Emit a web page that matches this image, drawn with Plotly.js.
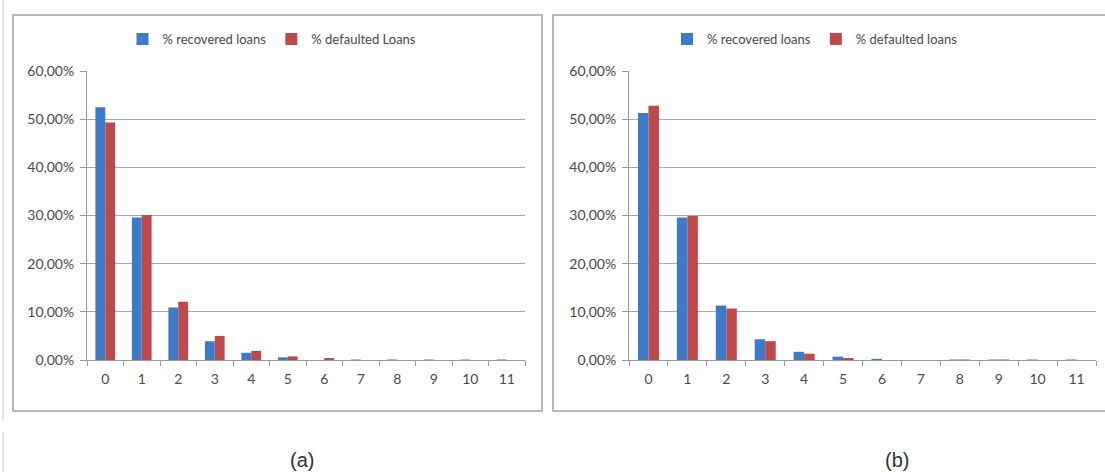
<!DOCTYPE html>
<html>
<head>
<meta charset="utf-8">
<script src="https://cdn.plot.ly/plotly-3.0.1.min.js"></script>
<style>html,body{margin:0;padding:0;background:#fff;}#chart{width:1105px;height:472px;}</style>
</head>
<body>
<div id="chart"></div>
<script>
// ---- data ----
var categories = ['0','1','2','3','4','5','6','7','8','9','10','11'];
var recoveredA = [52.5, 29.6, 10.9, 3.9, 1.5, 0.55, 0, 0.1, 0.1, 0.1, 0.1, 0.1];
var defaultedA = [49.3, 30.1, 12.1, 5.0, 1.9, 0.75, 0.4, 0, 0, 0, 0, 0];
var recoveredB = [51.3, 29.6, 11.3, 4.3, 1.7, 0.7, 0.25, 0, 0.1, 0.1, 0.1, 0.1];
var defaultedB = [52.8, 29.9, 10.7, 3.9, 1.3, 0.4, 0, 0, 0.1, 0.1, 0, 0];
var namesA = ['% recovered loans', '% defaulted Loans'];
var namesB = ['% recovered loans', '% defaulted loans'];
var captions = ['(a)', '(b)'];

var W = 1105, H = 472;
function px(x){ return x / W; }
function py(y){ return 1 - y / H; }

var blue = '#3b7bc8', red = '#bd494a';
var font = 'Lato, "Open Sans", sans-serif';
var txt = '#4a4a4a';

var traces = [
  {type:'bar', x:categories, y:recoveredA, name:namesA[0], marker:{color:blue}, xaxis:'x', yaxis:'y', legend:'legend'},
  {type:'bar', x:categories, y:defaultedA, name:namesA[1], marker:{color:red}, xaxis:'x', yaxis:'y', legend:'legend'},
  {type:'bar', x:categories, y:recoveredB, name:namesB[0], marker:{color:blue}, xaxis:'x2', yaxis:'y2', legend:'legend2'},
  {type:'bar', x:categories, y:defaultedB, name:namesB[1], marker:{color:red}, xaxis:'x2', yaxis:'y2', legend:'legend2'}
];

var yDomain = [py(360), py(71)];
function xAxis(domain, anchor){
  return {domain:domain, anchor:anchor, type:'category', showline:true, linecolor:'#9a9a9a', linewidth:1,
    ticks:'outside', tickson:'boundaries', ticklen:5, tickcolor:'#9a9a9a', showgrid:false, zeroline:false,
    ticklabelstandoff:6,
    tickfont:{family:font, size:14, color:txt}, fixedrange:true};
}
function yAxis(anchor){
  return {domain:yDomain, anchor:anchor, range:[0,60], dtick:10, tickformat:'.2f', ticksuffix:'%',
    showline:true, linecolor:'#9a9a9a', linewidth:1, ticks:'outside', ticklen:6, tickcolor:'#9a9a9a',
    showgrid:true, gridcolor:'#a8a8a8', gridwidth:1.3, zeroline:false, ticklabelstandoff:3,
    tickfont:{family:font, size:14, color:txt}, fixedrange:true};
}

var layout = {
  width:W, height:H, margin:{l:0,r:0,t:0,b:0}, paper_bgcolor:'#fff', plot_bgcolor:'rgba(0,0,0,0)',
  separators:',.', barmode:'group', bargap:0.46, bargroupgap:0,
  font:{family:font, color:txt},
  xaxis: xAxis([px(87), px(525)], 'y'),
  yaxis: yAxis('x'),
  xaxis2: xAxis([px(629), px(1096)], 'y2'),
  yaxis2: yAxis('x2'),
  legend:{orientation:'h', x:px(272), xanchor:'center', y:py(39), yanchor:'middle',
    font:{family:font, size:13, color:txt}, bgcolor:'rgba(0,0,0,0)', itemwidth:30, traceorder:'normal'},
  legend2:{orientation:'h', x:px(815), xanchor:'center', y:py(39), yanchor:'middle',
    font:{family:font, size:13, color:txt}, bgcolor:'rgba(0,0,0,0)', itemwidth:30, traceorder:'normal'},
  shapes:[
    {type:'rect', xref:'paper', yref:'paper', x0:px(13), x1:px(542), y0:py(411), y1:py(15), line:{color:'#a3a3a3', width:1.5}},
    {type:'rect', xref:'paper', yref:'paper', x0:px(553), x1:px(1110), y0:py(411), y1:py(15), line:{color:'#a3a3a3', width:1.5}},
    {type:'line', xref:'paper', yref:'paper', x0:px(3), x1:px(3), y0:py(0), y1:py(420), line:{color:'#c8c8c8', width:1}},
    {type:'line', xref:'paper', yref:'paper', x0:px(3), x1:px(3), y0:py(432), y1:py(472), line:{color:'#c8c8c8', width:1}}
  ],
  annotations:[
    {text:captions[0], xref:'paper', yref:'paper', x:px(302), y:py(460), xanchor:'center', yanchor:'middle', showarrow:false,
      font:{family:'"Liberation Sans Narrow", "Liberation Sans", Arial, sans-serif', size:20, color:'#333'}},
    {text:captions[1], xref:'paper', yref:'paper', x:px(897), y:py(460), xanchor:'center', yanchor:'middle', showarrow:false,
      font:{family:'"Liberation Sans Narrow", "Liberation Sans", Arial, sans-serif', size:20, color:'#333'}}
  ]
};

Plotly.newPlot('chart', traces, layout, {displayModeBar:false, staticPlot:true});
</script>
</body>
</html>
